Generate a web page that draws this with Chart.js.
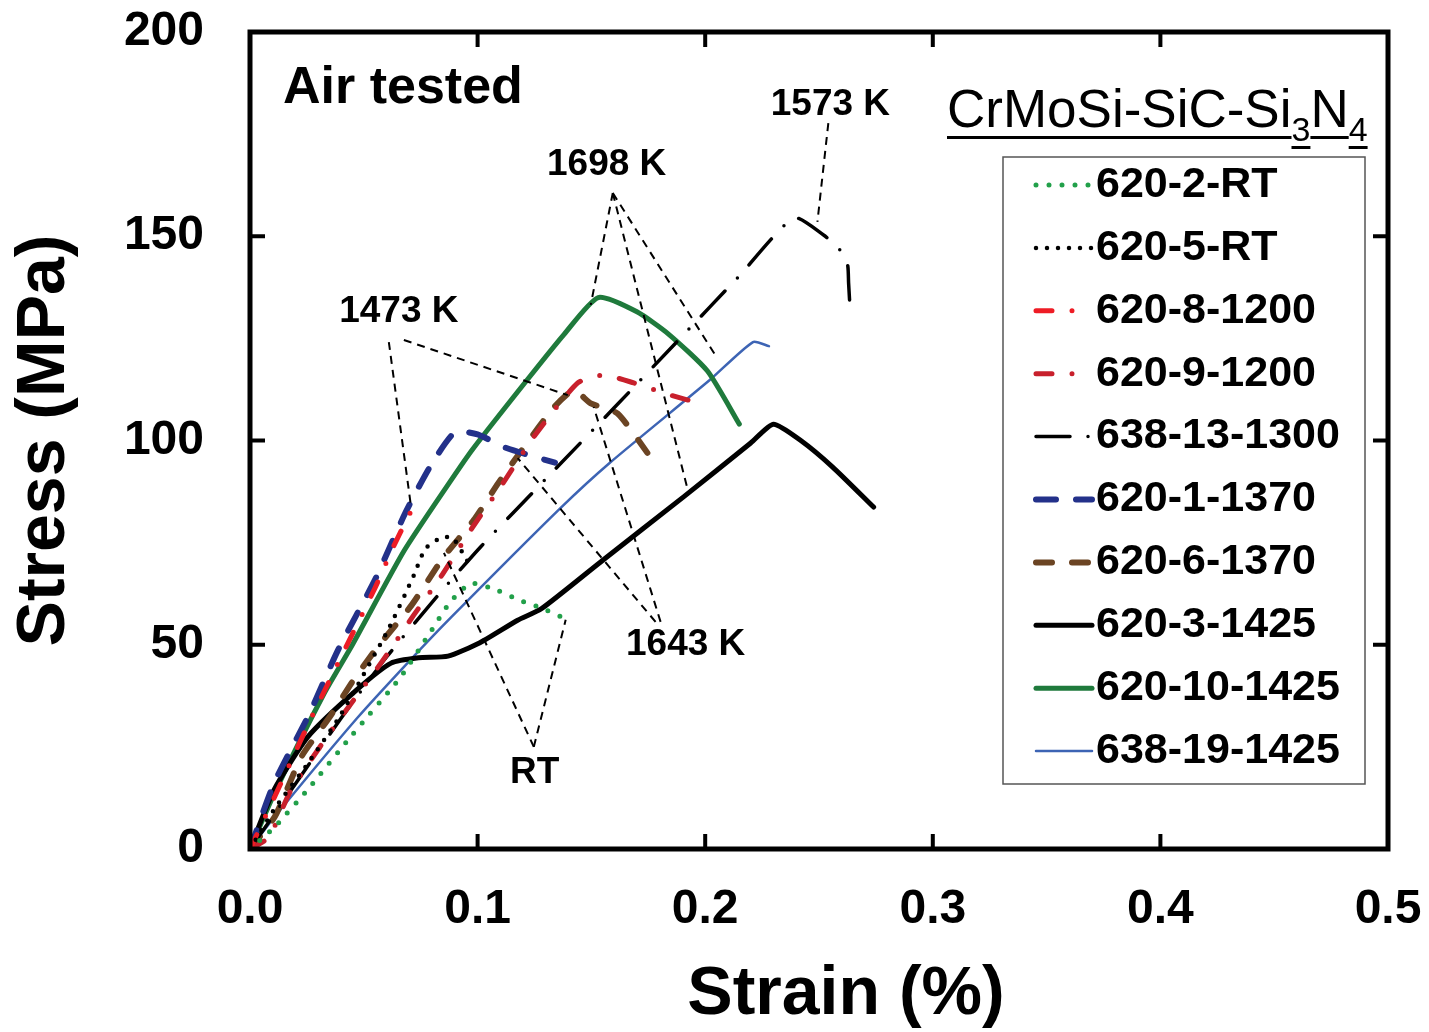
<!DOCTYPE html>
<html>
<head>
<meta charset="utf-8">
<script src="https://cdn.jsdelivr.net/npm/chart.js@4.4.0/dist/chart.umd.min.js"></script>
<style>
  html, body { margin: 0; padding: 0; background: #fff; }
  #wrap { width: 1429px; height: 1032px; }
</style>
</head>
<body>
<div id="wrap"><canvas id="myChart" width="1429" height="1032"></canvas></div>
<script>
// strain (%) and stress (MPa)
const rt2Strain = [0, 0.011, 0.026, 0.045, 0.066, 0.078, 0.088, 0.097, 0.108, 0.118, 0.128, 0.138]
const rt2Stress = [0, 5.5, 15, 28, 42, 52, 60.5, 65, 63.5, 61, 59, 56.5]

const rt5Strain = [0, 0.011, 0.0255, 0.04, 0.0606, 0.072, 0.077, 0.084, 0.089, 0.096]
const rt5Stress = [0, 10, 21, 33, 53.6, 67, 73.5, 76.2, 76.2, 70]

const s8Strain = [0, 0.011, 0.026, 0.04, 0.055, 0.063, 0.071]
const s8Stress = [0, 13, 31, 47, 64, 74, 83]

const s9Strain = [0, 0.0083, 0.018, 0.0369, 0.0575, 0.072, 0.0838, 0.097, 0.110, 0.1247, 0.144, 0.1554, 0.1686, 0.1848, 0.197]
const s9Stress = [0, 2.9, 14.4, 29.9, 45.5, 57.3, 66.6, 78.1, 88.6, 100.9, 114.1, 116, 114.1, 111.1, 109.2]

const s13Strain = [0, 0.02, 0.04, 0.06, 0.084, 0.1014, 0.13, 0.16, 0.19, 0.215, 0.239, 0.252, 0.2586, 0.2625, 0.263, 0.2638]
const s13Stress = [0, 16, 32, 47, 63, 74, 90.6, 108, 125.6, 140.3, 154.5, 150.3, 147.1, 143.2, 138.6, 130.7]

const s1Strain = [0, 0.0105, 0.026, 0.0385, 0.055, 0.068, 0.079, 0.090, 0.100, 0.111, 0.122, 0.134]
const s1Stress = [0, 16, 33, 48.5, 66, 82, 93.5, 102, 101.5, 98.5, 96.5, 94.6]

const s6Strain = [0, 0.011, 0.0225, 0.035, 0.0455, 0.056, 0.071, 0.085, 0.0983, 0.109, 0.1203, 0.1335, 0.1422, 0.1497, 0.1615, 0.176]
const s6Stress = [0, 8, 22.5, 32.3, 41.4, 49.4, 59.7, 71.4, 80.5, 89.5, 98.3, 108.1, 112.3, 109.1, 106.6, 95.9]

const s3Strain = [0, 0.0105, 0.0255, 0.047, 0.062, 0.074, 0.087, 0.101, 0.1176, 0.128, 0.155, 0.1905, 0.22, 0.230, 0.242, 0.256, 0.274]
const s3Stress = [0, 14.4, 27.5, 39, 45.5, 46.8, 47.2, 50.5, 56, 58.8, 70.7, 86.2, 99.4, 104, 100, 93.5, 83.7]

const s10Strain = [0, 0.011, 0.0325, 0.045, 0.0677, 0.088, 0.098, 0.122, 0.138, 0.153, 0.170, 0.184, 0.201, 0.215]
const s10Stress = [0, 14, 38, 50, 73, 90, 98, 115, 126, 135, 131.5, 126, 117, 104]

const s19Strain = [0, 0.011, 0.047, 0.070, 0.088, 0.1365, 0.158, 0.202, 0.221, 0.228]
const s19Stress = [0, 8, 32, 46, 56.5, 83.5, 94.5, 114.8, 124.1, 123.1]

const seriesNames = ['620-2-RT', '620-5-RT', '620-8-1200', '620-9-1200', '638-13-1300',
                     '620-1-1370', '620-6-1370', '620-3-1425', '620-10-1425', '638-19-1425']

const xTicks = [0, 0.1, 0.2, 0.3, 0.4, 0.5]
const yTicks = [0, 50, 100, 150, 200]

// temperature call-outs: label text, label point, and leader line ends (strain, stress)
const calloutText = ['1473 K', '1698 K', '1573 K', '1643 K', 'RT']
const calloutAt = [[0.0654, 131.5], [0.1567, 167.4], [0.255, 182.1], [0.1914, 49.9], [0.1251, 18.6]]
const leaderFrom = [[0.061, 124.1], [0.0676, 124.6],
                    [0.1594, 160.6], [0.1594, 160.6], [0.1594, 160.6],
                    [0.2541, 177.7],
                    [0.1782, 55.6], [0.1804, 55.6],
                    [0.1247, 25], [0.1247, 25]]
const leaderTo = [[0.0707, 84.0], [0.1396, 111.1],
                  [0.1497, 133.2], [0.1927, 87.1], [0.205, 120.4],
                  [0.2493, 153.5],
                  [0.1176, 95.7], [0.151, 108.2],
                  [0.0852, 72.5], [0.1387, 56.1]]

const FONT = "'Liberation Sans', Arial, Helvetica, sans-serif"

const pts = (xs, ys) => xs.map((v, i) => ({x: v, y: ys[i]}))

const styles = [
    {color: '#22a04a', width: 5, dash: [0, 13], cap: 'round'},
    {color: '#000000', width: 4.5, dash: [0, 11], cap: 'round'},
    {color: '#ee1c25', width: 5, dash: [16, 20, 0, 20], cap: 'round'},
    {color: '#c8202c', width: 5, dash: [16, 20, 0, 20], cap: 'round'},
    {color: '#000000', width: 3.5, dash: [34, 18, 0, 18], cap: 'round'},
    {color: '#23318a', width: 6, dash: [20, 20], cap: 'round'},
    {color: '#6b4423', width: 6, dash: [16, 20], cap: 'round'},
    {color: '#000000', width: 5, dash: [], cap: 'round'},
    {color: '#1f7a3c', width: 5, dash: [], cap: 'round'},
    {color: '#3d64b4', width: 2.5, dash: [], cap: 'round'},
]

const seriesData = [
    pts(rt2Strain, rt2Stress), pts(rt5Strain, rt5Stress), pts(s8Strain, s8Stress),
    pts(s9Strain, s9Stress), pts(s13Strain, s13Stress), pts(s1Strain, s1Stress),
    pts(s6Strain, s6Stress), pts(s3Strain, s3Stress), pts(s10Strain, s10Stress),
    pts(s19Strain, s19Stress)
]

const datasets = seriesNames.map((name, i) => ({
    label: name,
    data: seriesData[i],
    showLine: true,
    pointRadius: 0,
    fill: false,
    tension: 0.2,
    borderColor: styles[i].color,
    borderWidth: styles[i].width,
    borderDash: styles[i].dash,
    borderCapStyle: styles[i].cap,
    borderJoinStyle: 'round'
}))

// frame, inward ticks, call-outs, legend and labels
const decor = {
    id: 'decor',
    afterDatasetsDraw(chart) {
        const {ctx, chartArea: a, scales: {x, y}} = chart
        ctx.save()

        // leader lines
        ctx.strokeStyle = '#000'
        ctx.lineWidth = 2
        ctx.setLineDash([8, 6])
        ctx.lineCap = 'butt'
        leaderFrom.forEach((p, i) => {
            ctx.beginPath()
            ctx.moveTo(x.getPixelForValue(p[0]), y.getPixelForValue(p[1]))
            ctx.lineTo(x.getPixelForValue(leaderTo[i][0]), y.getPixelForValue(leaderTo[i][1]))
            ctx.stroke()
        })
        ctx.setLineDash([])

        ctx.fillStyle = '#000'
        ctx.font = 'bold 37px ' + FONT
        ctx.textAlign = 'center'
        ctx.textBaseline = 'middle'
        calloutText.forEach((t, i) => {
            ctx.fillText(t, x.getPixelForValue(calloutAt[i][0]), y.getPixelForValue(calloutAt[i][1]))
        })

        ctx.font = 'bold 52px ' + FONT
        ctx.textAlign = 'left'
        ctx.fillText('Air tested', a.left + 33, a.top + 57)

        // frame
        ctx.lineWidth = 5
        ctx.strokeStyle = '#000'
        ctx.strokeRect(a.left, a.top, a.right - a.left, a.bottom - a.top)
        ctx.lineWidth = 4
        xTicks.slice(1, -1).forEach(v => {
            const px = x.getPixelForValue(v)
            ctx.beginPath()
            ctx.moveTo(px, a.bottom); ctx.lineTo(px, a.bottom - 15)
            ctx.moveTo(px, a.top); ctx.lineTo(px, a.top + 15)
            ctx.stroke()
        })
        yTicks.slice(1, -1).forEach(v => {
            const py = y.getPixelForValue(v)
            ctx.beginPath()
            ctx.moveTo(a.left, py); ctx.lineTo(a.left + 15, py)
            ctx.moveTo(a.right, py); ctx.lineTo(a.right - 15, py)
            ctx.stroke()
        })

        // title with subscripts
        let tx = 947
        const base = 127
        ctx.textBaseline = 'alphabetic'
        const parts = [['CrMoSi-SiC-Si', 0], ['3', 1], ['N', 0], ['4', 1]]
        parts.forEach(([t, sub]) => {
            ctx.font = (sub ? '34px ' : '53px ') + FONT
            const w = ctx.measureText(t).width
            const by = sub ? base + 14 : base
            ctx.fillText(t, tx, by)
            ctx.fillRect(tx, by + (sub ? 5 : 9), w, 3)
            tx += w
        })

        // legend
        const lx = 1003, ly = 157, lw = 362, lh = 627
        ctx.fillStyle = '#fff'
        ctx.fillRect(lx, ly, lw, lh)
        ctx.strokeStyle = '#555'
        ctx.lineWidth = 1.5
        ctx.strokeRect(lx, ly, lw, lh)
        chart.data.datasets.forEach((ds, i) => {
            const cy = 185 + i * 62.9
            ctx.strokeStyle = ds.borderColor
            ctx.lineWidth = ds.borderWidth
            ctx.lineCap = ds.borderCapStyle
            ctx.setLineDash(ds.borderDash)
            ctx.beginPath()
            ctx.moveTo(1036, cy)
            ctx.lineTo(1092, cy)
            ctx.stroke()
            ctx.setLineDash([])
            ctx.fillStyle = '#000'
            ctx.font = 'bold 43px ' + FONT
            ctx.textBaseline = 'middle'
            ctx.fillText(ds.label, 1096, cy)
        })

        // x axis title
        ctx.font = 'bold 68px ' + FONT
        ctx.textAlign = 'center'
        ctx.textBaseline = 'middle'
        ctx.fillText('Strain (%)', 846, 995)
        ctx.restore()
    }
}

const config = {
    type: 'scatter',
    data: {datasets: datasets},
    options: {
        responsive: false,
        animation: false,
        devicePixelRatio: 1,
        layout: {padding: {top: 32, right: 41, left: 0, bottom: 0}},
        plugins: {legend: {display: false}, tooltip: {enabled: false}},
        scales: {
            x: {
                type: 'linear',
                min: 0,
                max: 0.5,
                afterBuildTicks: s => { s.ticks = xTicks.map(v => ({value: v})) },
                afterFit: s => { s.height = 183; s.paddingLeft = 0; s.paddingRight = 0 },
                grid: {display: false, drawTicks: false},
                border: {display: false},
                ticks: {
                    padding: 32,
                    color: '#000',
                    font: {family: FONT, size: 48, weight: 'bold'},
                    callback: v => v.toFixed(1)
                }
            },
            y: {
                min: 0,
                max: 200,
                afterBuildTicks: s => { s.ticks = yTicks.map(v => ({value: v})) },
                afterFit: s => { s.width = 250; s.paddingTop = 0; s.paddingBottom = 0 },
                grid: {display: false, drawTicks: false},
                border: {display: false},
                ticks: {
                    padding: 46,
                    color: '#000',
                    font: {family: FONT, size: 48, weight: 'bold'}
                },
                title: {
                    display: true,
                    text: 'Stress (MPa)',
                    color: '#000',
                    font: {family: FONT, size: 68, weight: 'bold'},
                    padding: {top: 4, bottom: 0}
                }
            }
        }
    },
    plugins: [decor]
}

const myChart = new Chart(document.getElementById('myChart'), config)
</script>
</body>
</html>
